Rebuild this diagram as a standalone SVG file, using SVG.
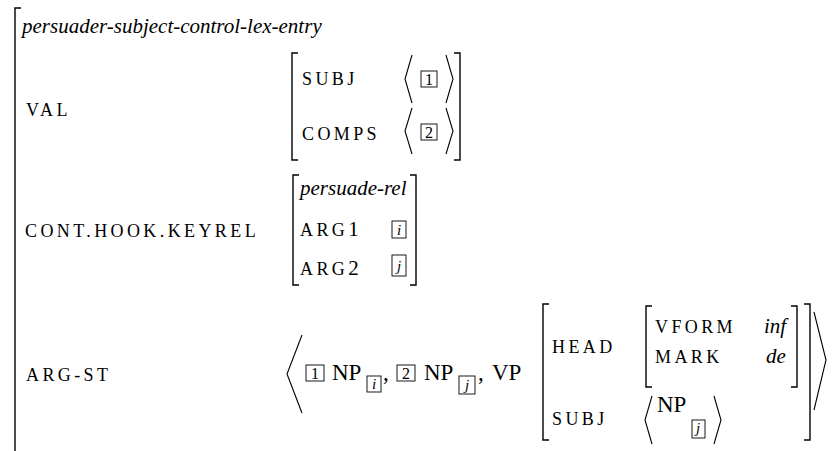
<svg xmlns="http://www.w3.org/2000/svg" width="834" height="451" viewBox="0 0 834 451">
<rect width="834" height="451" fill="#fff"/>
<g id="connectors" fill="none" stroke="#000">
<g id="brackets" stroke-width="1.4">
<path d="M21,8 H15 V451"/>
<path d="M298,53 H292 V160 H298"/>
<path d="M454,53 H460 V160 H454"/>
<path d="M299,175 H293 V285 H299"/>
<path d="M410,175 H416 V285 H410"/>
<path d="M549,304 H543 V440 H549"/>
<path d="M652,306 H646 V387 H652"/>
<path d="M791,306 H797 V387 H791"/>
<path d="M804,304 H810 V440 H804"/>
</g>
<g id="angles" stroke-width="1.1">
<path d="M412,55 L405,79 L412,103"/>
<path d="M446,55 L453,79 L446,103"/>
<path d="M412,108 L405,131 L412,154"/>
<path d="M446,108 L453,131 L446,154"/>
<path d="M302,335 L287,374 L302,413"/>
<path d="M652,396 L645,420 L652,444"/>
<path d="M714,396 L721,420 L714,444"/>
<path d="M814,312 L826,360 L814,410"/>
</g>
<g id="boxes" stroke-width="0.9">
<rect x="421" y="71" width="16" height="16"/>
<rect x="421" y="124" width="16" height="16"/>
<rect x="392" y="221" width="14" height="17"/>
<rect x="392" y="255" width="14" height="21"/>
<rect x="306" y="365" width="18" height="16"/>
<rect x="367" y="376" width="14" height="16"/>
<rect x="397" y="365" width="18" height="16"/>
<rect x="459" y="376" width="16" height="18"/>
<rect x="692" y="420" width="13" height="18"/>
</g>
</g>
<g id="title">
<text x="22" y="33" font-family="Liberation Serif" font-style="italic" font-size="21">persuader-subject-control-lex-entry</text>
</g>
<g id="val">
<text x="26" y="116" font-family="Liberation Serif" font-size="18" letter-spacing="3.4">VAL</text>
<text x="302" y="85" font-family="Liberation Serif" font-size="18" letter-spacing="3.4">SUBJ</text>
<text x="429" y="85" font-family="Liberation Serif" font-size="16" text-anchor="middle">1</text>
<text x="302" y="140" font-family="Liberation Serif" font-size="18" letter-spacing="3.4">COMPS</text>
<text x="429" y="138" font-family="Liberation Serif" font-size="16" text-anchor="middle">2</text>
</g>
<g id="keyrel">
<text x="25" y="237" font-family="Liberation Serif" font-size="18" letter-spacing="3.4">CONT.HOOK.KEYREL</text>
<text x="300" y="195" font-family="Liberation Serif" font-style="italic" font-size="21">persuade-rel</text>
<text x="300" y="236" font-family="Liberation Serif" font-size="18" letter-spacing="3.4">ARG<tspan font-size="21" letter-spacing="0">1</tspan></text>
<text x="399" y="235" font-family="Liberation Serif" font-style="italic" font-size="15" text-anchor="middle">i</text>
<text x="300" y="275" font-family="Liberation Serif" font-size="18" letter-spacing="3.4">ARG<tspan font-size="21" letter-spacing="0">2</tspan></text>
<text x="399" y="271" font-family="Liberation Serif" font-style="italic" font-size="15" text-anchor="middle">j</text>
</g>
<g id="argst">
<text x="26" y="381" font-family="Liberation Serif" font-size="18" letter-spacing="3.4">ARG-ST</text>
<text x="315" y="379" font-family="Liberation Serif" font-size="16" text-anchor="middle">1</text>
<text x="332" y="380" font-family="Liberation Serif" font-size="23">NP</text>
<text x="374" y="389" font-family="Liberation Serif" font-style="italic" font-size="15" text-anchor="middle">i</text>
<text x="383" y="380" font-family="Liberation Serif" font-size="23">,</text>
<text x="406" y="379" font-family="Liberation Serif" font-size="16" text-anchor="middle">2</text>
<text x="424" y="380" font-family="Liberation Serif" font-size="23">NP</text>
<text x="467" y="390" font-family="Liberation Serif" font-style="italic" font-size="15" text-anchor="middle">j</text>
<text x="478" y="380" font-family="Liberation Serif" font-size="23">,</text>
<text x="492" y="380" font-family="Liberation Serif" font-size="23">VP</text>
</g>
<g id="vp">
<text x="552" y="353" font-family="Liberation Serif" font-size="18" letter-spacing="3.4">HEAD</text>
<text x="655" y="333" font-family="Liberation Serif" font-size="18" letter-spacing="3.4">VFORM</text>
<text x="764" y="333" font-family="Liberation Serif" font-style="italic" font-size="21">inf</text>
<text x="655" y="363" font-family="Liberation Serif" font-size="18" letter-spacing="3.4">MARK</text>
<text x="766" y="363" font-family="Liberation Serif" font-style="italic" font-size="21">de</text>
<text x="552" y="425" font-family="Liberation Serif" font-size="18" letter-spacing="3.4">SUBJ</text>
<text x="657" y="412" font-family="Liberation Serif" font-size="23">NP</text>
<text x="698" y="433" font-family="Liberation Serif" font-style="italic" font-size="15" text-anchor="middle">j</text>
</g>
</svg>
